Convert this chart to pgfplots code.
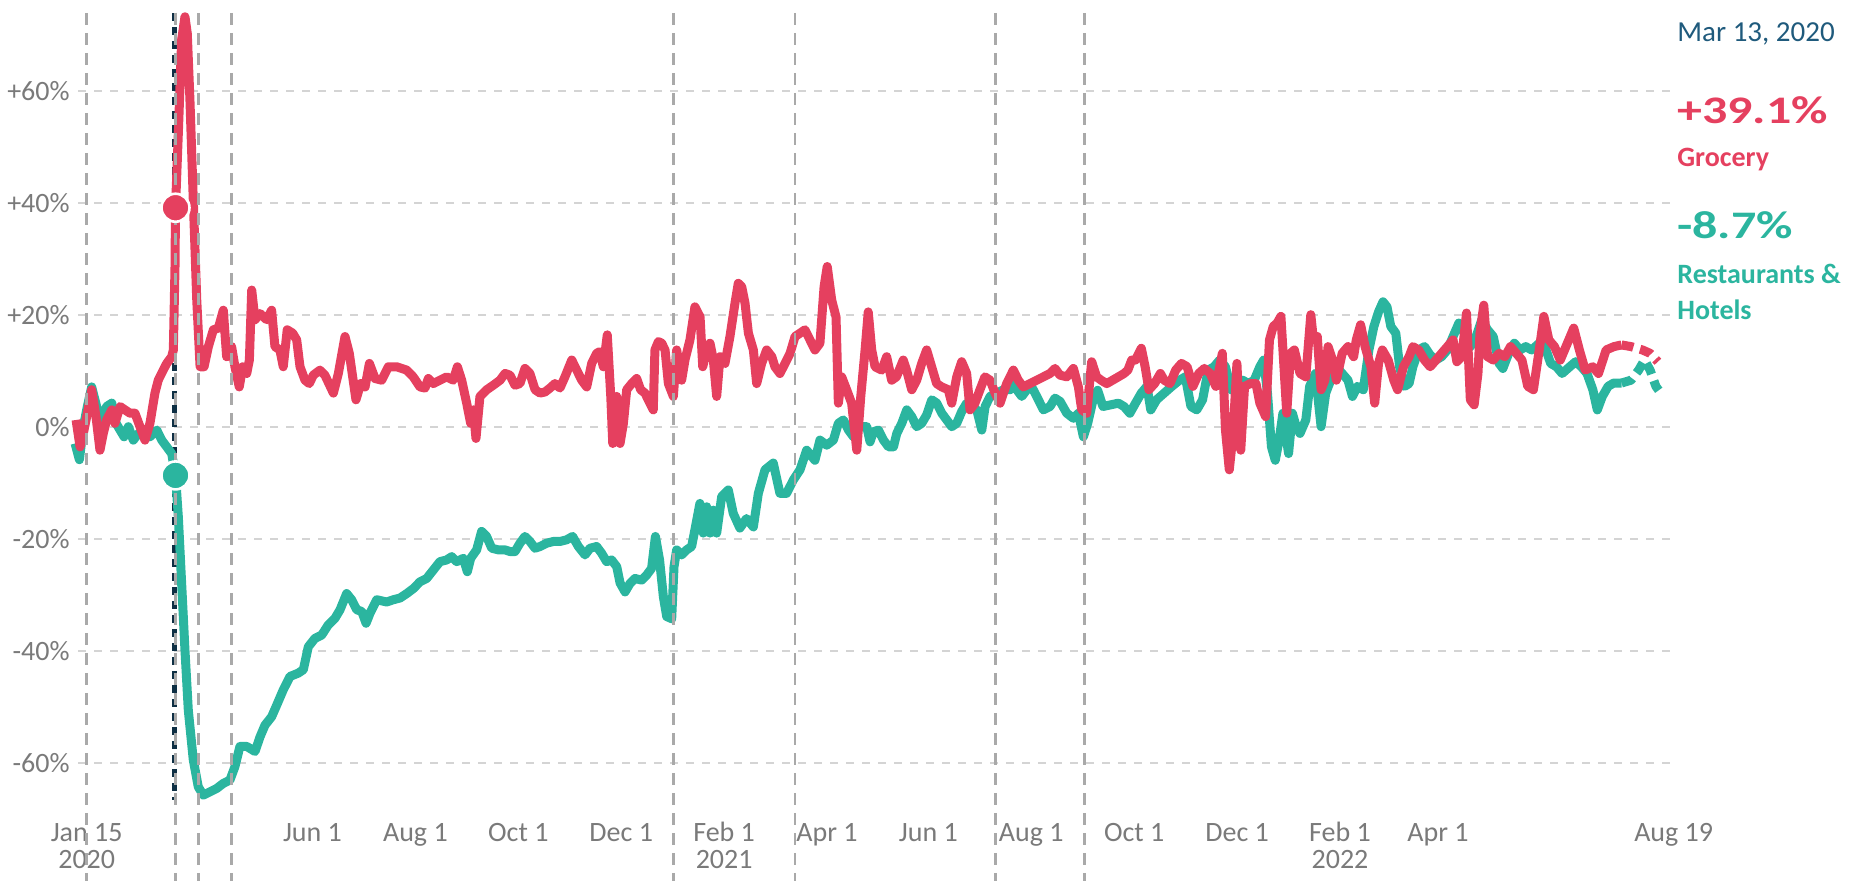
\documentclass[border=0pt]{standalone}
\usepackage{fontspec}
\setmainfont{Carlito}
\newfontfamily\bigfont[FakeStretch=1.28]{Carlito}
\usepackage{pgfplots}
\pgfplotsset{compat=1.18}
\definecolor{groc}{HTML}{E5405F}
\definecolor{rest}{HTML}{2BB59F}
\definecolor{navy}{HTML}{0E2F44}
\definecolor{datec}{HTML}{1F5A7C}
\definecolor{tickc}{HTML}{7A7A7A}
\definecolor{gridc}{HTML}{D4D4D4}
\definecolor{vlinec}{HTML}{A9A9A9}
\begin{document}
\begin{tikzpicture}
\begin{axis}[
  scale only axis, width=798.5pt, height=397.6pt,
  xmin=-5.24, xmax=956.8, ymin=-68, ymax=74,
  axis line style={draw=none}, tick style={draw=none}, major tick length=0pt,
  ytick={-60,-40,-20,0,20,40,60},
  yticklabels={-60\%,-40\%,-20\%,0\%,+20\%,+40\%,+60\%},
  ymajorgrids, grid style={gridc, line width=1pt, dash pattern=on 4pt off 4pt},
  xtick={0,136,198,260,322,384,446,507,569,631,693,755,814,956},
  xticklabels={Jan 15,Jun 1,Aug 1,Oct 1,Dec 1,Feb 1,Apr 1,Jun 1,Aug 1,Oct 1,Dec 1,Feb 1,Apr 1,Aug 19},
  extra x ticks={0,384,755}, extra x tick labels={2020,2021,2022},
  extra x tick style={grid=none, xticklabel style={yshift=-13.5pt}},
  ticklabel style={font=\fontsize{14}{16}\selectfont, text=tickc},
  xticklabel style={anchor=base, yshift=-17pt},
  yticklabel style={anchor=east, inner sep=0pt, xshift=-4pt},
  clip=false,
  every axis plot/.append style={line width=4.5pt, line join=round, mark=none},
]
% Mar 13 marker line (under the data)
\draw[navy, line width=2.4pt, dash pattern=on 4pt off 3pt] (axis cs:53.1,73.9) -- (axis cs:53.1,-66.6);
% Restaurants & Hotels (solid)
\addplot[rest] coordinates {
(-7.0,-3.0) (-4.4,-5.9) (-2.0,0.0) (0.4,3.6) (3.0,7.1) (6.0,3.6) (9.0,1.2) (12.0,3.6) (15.1,4.2) (17.7,0.6) (20.1,-0.6) (22.5,-1.8) (25.1,0.0) (28.1,-2.4) (31.1,-1.2) (34.1,-1.2) (38.1,-1.8) (42.2,-0.6) (45.2,-2.4) (48.2,-3.6) (51.2,-4.8) (53.5,-8.7) (55.2,-16.1) (57.2,-28.0) (59.2,-39.9) (61.2,-50.6) (64.2,-59.5) (67.2,-64.3) (70.2,-65.8) (74.3,-65.2) (78.3,-64.6) (82.3,-63.7) (86.3,-63.1) (89.3,-60.7) (92.3,-57.1) (96.4,-57.1) (101.4,-58.0) (104.4,-55.4) (107.4,-53.3) (111.4,-51.8) (114.5,-49.7) (118.4,-47.0) (122.5,-44.6) (127.5,-44.0) (130.5,-43.4) (133.5,-39.3) (137.5,-37.8) (141.6,-37.2) (145.5,-35.4) (149.6,-34.2) (152.6,-32.7) (156.6,-29.8) (159.6,-30.9) (162.7,-32.7) (165.7,-33.0) (168.3,-35.1) (170.7,-33.3) (174.7,-30.9) (180.7,-31.3) (184.7,-30.9) (188.7,-30.6) (192.8,-29.8) (196.8,-28.9) (200.8,-27.7) (204.8,-27.1) (208.8,-25.6) (212.8,-24.1) (216.8,-23.8) (219.9,-23.2) (222.9,-24.1) (226.9,-23.5) (229.3,-25.9) (231.3,-23.5) (234.9,-22.0) (237.9,-18.7) (240.9,-19.6) (244.0,-21.7) (248.0,-22.0) (252.0,-22.0) (255.0,-22.3) (258.0,-22.3) (261.0,-20.8) (264.0,-19.6) (267.0,-20.5) (270.1,-21.7) (273.1,-21.4) (277.1,-20.8) (281.1,-20.5) (285.1,-20.5) (289.1,-20.2) (292.7,-19.6) (296.2,-21.4) (300.2,-22.9) (303.2,-21.7) (307.2,-21.4) (310.2,-22.6) (313.2,-24.1) (316.2,-23.8) (319.3,-25.0) (321.3,-27.9) (324.3,-29.5) (327.3,-28.0) (330.3,-27.1) (334.3,-27.4) (337.3,-26.5) (340.3,-25.3) (342.6,-19.6) (345.1,-23.8) (347.4,-30.4) (349.4,-33.9) (352.4,-34.3) (353.8,-25.0) (355.4,-22.0) (358.4,-22.9) (361.4,-22.0) (364.4,-21.4) (366.4,-18.4) (369.4,-13.7) (371.4,-19.0) (373.5,-14.3) (375.5,-19.0) (377.5,-14.9) (379.5,-19.0) (382.5,-12.5) (386.5,-11.3) (389.5,-15.5) (393.5,-18.1) (397.5,-16.4) (401.6,-17.9) (404.6,-11.9) (408.6,-7.7) (413.6,-6.5) (417.6,-11.9) (421.6,-11.9) (425.7,-9.5) (429.7,-7.7) (433.7,-4.2) (438.7,-6.0) (441.7,-2.4) (445.8,-3.3) (449.8,-2.4) (452.8,0.6) (455.8,1.2) (458.9,-0.6) (461.9,-1.8) (465.9,0.0) (469.9,0.0) (471.9,-2.7) (473.9,-0.9) (476.9,-0.6) (480.0,-2.4) (483.0,-3.6) (486.0,-3.6) (488.0,-1.2) (491.0,0.6) (494.0,3.0) (497.0,1.8) (500.0,0.0) (503.0,0.6) (506.0,2.1) (509.1,4.8) (512.1,4.2) (515.1,2.4) (518.1,1.2) (521.1,0.0) (524.1,0.6) (527.1,2.7) (530.1,4.2) (533.1,3.6) (536.2,3.0) (539.2,-0.6) (541.2,3.6) (544.2,5.4) (548.2,6.0) (552.2,6.6) (556.2,6.6) (558.2,7.7) (560.3,6.6) (563.3,5.4) (566.3,6.6) (569.3,7.1) (572.3,5.4) (576.3,3.0) (580.3,3.6) (583.3,5.1) (586.4,4.5) (590.4,2.4) (594.4,1.5) (597.4,2.4) (600.4,-1.8) (603.0,0.6) (606.4,5.0) (609.0,6.5) (612.2,3.6) (616.8,3.9) (621.5,4.2) (624.9,3.6) (628.4,2.4) (631.8,4.2) (635.3,6.0) (638.7,7.2) (641.0,3.0) (644.5,4.8) (649.1,6.0) (653.7,7.2) (658.3,8.3) (661.8,8.9) (665.2,3.6) (668.7,3.0) (672.2,4.8) (675.6,10.1) (679.1,10.7) (682.5,11.9) (686.0,10.7) (689.4,6.6) (692.9,7.7) (696.4,8.3) (699.8,7.7) (703.3,8.3) (706.7,10.7) (709.0,11.9) (711.3,6.0) (713.7,-3.6) (716.0,-6.0) (718.3,-2.4) (720.6,2.4) (724.0,-4.8) (726.3,2.4) (728.6,0.0) (730.9,-1.2) (734.4,1.2) (736.7,7.2) (740.2,9.5) (743.6,0.0) (746.4,6.0) (749.4,8.3) (752.8,10.7) (756.3,9.5) (759.8,8.3) (762.5,5.4) (765.5,7.2) (769.0,6.6) (772.4,13.7) (775.4,17.9) (778.2,20.5) (780.9,22.3) (783.3,21.4) (785.6,17.9) (788.6,16.7) (790.9,10.7) (793.9,7.2) (796.6,7.7) (798.9,10.7) (802.4,13.7) (805.9,14.3) (809.3,12.8) (812.8,11.9) (816.2,12.5) (819.7,13.7) (823.1,16.1) (826.6,18.5) (830.0,16.7) (833.5,14.3) (837.0,16.1) (840.4,19.1) (843.9,17.3) (847.3,16.1) (850.8,11.3) (853.1,10.4) (856.6,13.1) (860.0,14.9) (863.5,13.7) (866.9,14.3) (870.4,13.7) (875.0,14.9) (878.4,14.3) (881.9,11.3) (885.4,10.7) (888.8,9.5) (893.4,10.7) (896.9,11.6) (900.4,10.7) (903.8,9.5) (907.3,6.6) (910.0,3.0) (913.0,5.4) (916.5,7.2) (919.9,7.8) (924.6,7.8)
};
% Restaurants & Hotels (dashed end)
\addplot[rest, dash pattern=on 6pt off 3.5pt] coordinates {
(924.6,7.8) (930.3,8.3) (934.9,10.1) (938.4,11.9) (941.8,10.1) (945.3,7.2) (947,6.5)
};
% Grocery (solid)
\addplot[groc] coordinates {
(-6.4,1.2) (-4.0,-3.6) (-2.0,-1.2) (0.4,2.4) (3.0,6.6) (5.6,1.8) (8.0,-4.2) (10.0,-1.2) (12.0,1.2) (15.1,3.0) (17.0,0.6) (20.1,3.6) (23.1,3.0) (26.1,2.4) (29.1,2.4) (32.1,0.0) (35.1,-2.4) (38.1,0.6) (41.1,6.0) (43.1,8.3) (46.1,10.1) (48.2,11.3) (51.2,12.5) (52.2,13.7) (53.2,28.6) (53.5,39.1) (55.2,52.4) (57.2,69.1) (59.2,73.2) (60.6,70.2) (62.2,58.3) (64.2,40.5) (66.3,22.6) (68.3,10.7) (70.7,10.7) (73.3,14.3) (76.3,17.3) (79.3,17.6) (82.3,20.8) (84.3,12.5) (87.3,14.3) (89.3,10.7) (91.9,7.1) (94.0,10.7) (96.4,9.5) (98.0,11.9) (99.4,24.4) (101.4,19.1) (104.4,20.2) (108.4,19.1) (111.4,20.8) (113.4,14.3) (116.4,13.7) (118.4,10.7) (120.8,17.3) (124.1,16.7) (126.5,15.5) (128.5,10.7) (131.5,8.3) (134.1,7.7) (136.5,9.2) (140.5,10.1) (143.5,9.2) (148.6,6.0) (151.6,9.5) (155.6,16.1) (158.2,13.1) (162.2,4.8) (165.1,7.7) (167.7,7.1) (170.3,11.3) (173.7,8.6) (177.7,8.3) (181.7,10.7) (186.7,10.7) (192.8,10.1) (196.7,8.9) (200.8,7.1) (203.8,6.9) (205.8,8.6) (208.8,7.7) (212.8,8.3) (216.9,8.9) (220.8,8.3) (223.3,10.7) (225.9,8.3) (228.9,4.2) (231.3,0.6) (232.9,3.0) (234.5,-2.1) (236.9,5.4) (241.0,6.6) (244.9,7.4) (249.0,8.3) (252.0,9.5) (255.0,9.2) (258.0,7.4) (261.0,7.7) (264.0,10.4) (267.0,9.5) (270.1,6.6) (273.1,6.0) (276.1,6.2) (279.1,6.9) (282.1,7.7) (285.1,6.9) (288.1,8.9) (292.2,11.9) (295.2,10.1) (298.2,8.3) (301.2,7.1) (304.2,11.3) (307.2,13.1) (309.2,13.4) (311.2,10.7) (313.6,16.4) (315.7,5.4) (316.9,-3.0) (319.3,5.4) (321.3,-3.0) (323.3,0.6) (325.3,6.6) (328.3,7.7) (331.3,8.6) (333.7,6.6) (336.3,6.0) (339.3,4.2) (341.3,3.0) (342.3,13.7) (344.4,15.2) (346.4,14.9) (348.4,13.7) (350.4,7.7) (353.4,5.4) (355.4,13.7) (358.4,8.3) (360.4,11.9) (363.4,15.5) (366.4,21.4) (369.5,19.6) (371.1,10.7) (373.5,13.7) (375.5,14.9) (377.5,11.9) (379.5,5.4) (381.5,12.5) (384.5,11.3) (387.5,16.1) (390.5,22.0) (392.5,25.6) (394.6,25.0) (396.6,22.0) (398.6,16.7) (401.6,13.7) (403.6,7.7) (406.6,11.3) (409.6,13.7) (412.7,12.5) (414.6,10.7) (417.6,9.5) (420.7,11.3) (423.7,13.1) (426.7,16.1) (429.7,16.7) (432.7,17.3) (435.7,15.5) (438.7,13.7) (441.7,14.9) (444.2,25.0) (446.1,28.6) (448.8,22.6) (451.4,19.6) (452.8,4.2) (454.8,8.9) (457.8,6.6) (460.8,4.2) (463.9,-4.2) (466.3,5.4) (468.9,13.7) (470.8,20.5) (472.9,13.7) (474.9,10.7) (478.9,10.1) (481.9,12.5) (484.9,8.3) (487.8,8.9) (491.9,11.9) (493.9,10.1) (497.0,6.6) (500.0,8.3) (503.0,11.3) (506.0,13.7) (509.0,10.7) (512.0,7.7) (515.1,7.1) (519.0,6.6) (521.1,4.2) (524.1,8.9) (527.1,11.6) (530.1,9.5) (532.1,3.0) (535.1,4.2) (538.1,6.6) (541.1,8.9) (544.2,8.3) (547.2,6.0) (550.2,4.2) (554.2,7.7) (558.2,10.1) (561.2,8.3) (564.2,7.1) (568.2,7.7) (572.3,8.3) (576.3,8.9) (580.3,9.5) (583.3,10.4) (586.3,9.2) (590.4,8.9) (594.4,10.4) (597.4,7.1) (599.4,3.0) (602.4,2.4) (605.4,11.6) (608.4,8.9) (611.1,8.3) (614.5,7.7) (618.0,8.3) (621.5,8.9) (624.9,9.5) (627.2,10.1) (629.5,11.9) (631.8,11.9) (635.3,14.0) (637.6,10.7) (639.9,6.6) (643.3,7.7) (646.8,9.5) (649.1,8.3) (652.6,7.7) (656.0,10.1) (659.5,11.3) (662.9,10.7) (666.4,7.2) (669.9,9.5) (673.3,10.4) (676.8,9.5) (680.2,7.2) (684.1,13.1) (686.0,-0.6) (688.3,-7.7) (690.6,-1.2) (692.9,11.3) (695.2,-4.2) (697.5,7.2) (701.0,7.7) (704.4,7.7) (706.7,4.2) (710.2,1.8) (712.5,15.5) (714.8,17.9) (717.1,18.5) (719.4,19.7) (722.9,2.4) (725.2,13.1) (727.5,13.7) (730.9,9.5) (734.4,8.9) (737.4,20.0) (739.0,15.5) (741.3,16.1) (743.6,6.6) (745.9,8.3) (747.8,14.3) (750.5,11.9) (752.8,8.3) (756.3,13.1) (759.8,14.3) (763.2,12.5) (764.8,15.5) (767.4,18.2) (770.1,14.3) (773.6,10.7) (775.9,4.2) (778.2,11.3) (780.5,13.7) (784.0,11.9) (787.4,8.3) (789.7,6.6) (793.2,10.7) (796.6,12.5) (798.9,14.3) (802.4,13.7) (805.9,11.9) (809.3,10.7) (812.8,11.9) (816.2,13.1) (819.7,14.3) (823.1,15.5) (825.4,11.6) (828.4,12.5) (831.2,20.3) (833.5,4.8) (835.8,3.9) (838.1,9.5) (839.3,16.7) (841.6,21.7) (843.9,12.5) (847.3,11.9) (850.8,13.1) (854.3,12.5) (857.7,14.3) (861.2,13.1) (864.6,11.9) (868.1,7.2) (871.5,6.6) (875.0,13.7) (877.8,19.7) (880.8,15.5) (884.2,14.3) (887.7,11.9) (891.1,14.3) (895.8,17.6) (899.2,13.7) (902.7,10.1) (907.3,10.7) (910.7,9.5) (915.3,13.7) (920.0,14.3) (924.6,14.6)
};
% Grocery (dashed end)
\addplot[groc, dash pattern=on 6pt off 3.5pt] coordinates {
(924.6,14.6) (930.3,14.3) (937.2,13.7) (941.8,13.1) (946.5,11.6)
};
% markers at Mar 13, 2020
\addplot[only marks, mark=*, mark size=7pt, line width=1.3pt, draw=white, fill=groc] coordinates {(53.5,39.1)};
\addplot[only marks, mark=*, mark size=7pt, line width=1.3pt, draw=white, fill=rest] coordinates {(53.5,-8.7)};
% vertical event lines (on top)
\draw[vlinec, line width=1.3pt, dash pattern=on 6pt off 4pt] (axis cs:0,73.9) -- (axis cs:0,-81.1);
\draw[vlinec, line width=1.3pt, dash pattern=on 6pt off 4pt] (axis cs:53.5,73.9) -- (axis cs:53.5,-81.1);
\draw[vlinec, line width=1.3pt, dash pattern=on 6pt off 4pt] (axis cs:67.4,73.9) -- (axis cs:67.4,-81.1);
\draw[vlinec, line width=1.3pt, dash pattern=on 6pt off 4pt] (axis cs:87.2,73.9) -- (axis cs:87.2,-81.1);
\draw[vlinec, line width=1.3pt, dash pattern=on 6pt off 4pt] (axis cs:353.6,73.9) -- (axis cs:353.6,-81.1);
\draw[vlinec, line width=1.3pt, dash pattern=on 6pt off 4pt] (axis cs:426.7,73.9) -- (axis cs:426.7,-81.1);
\draw[vlinec, line width=1.3pt, dash pattern=on 6pt off 4pt] (axis cs:547.6,73.9) -- (axis cs:547.6,-81.1);
\draw[vlinec, line width=1.3pt, dash pattern=on 6pt off 4pt] (axis cs:600.9,73.9) -- (axis cs:600.9,-81.1);
% annotations
\node[anchor=base west, inner sep=0pt, text=datec, font=\fontsize{14.5}{16}\selectfont] at (axis cs:958,68.8) {Mar 13, 2020};
\node[anchor=base west, inner sep=0pt, text=groc, font=\bigfont\bfseries\fontsize{19.5}{22}\selectfont] at (axis cs:958,54.2) {+39.1\%};
\node[anchor=base west, inner sep=0pt, text=groc, font=\bfseries\fontsize{14}{16}\selectfont] at (axis cs:958,46.4) {Grocery};
\node[anchor=base west, inner sep=0pt, text=rest, font=\bigfont\bfseries\fontsize{19.5}{22}\selectfont] at (axis cs:958,33.6) {-8.7\%};
\node[anchor=base west, inner sep=0pt, text=rest, font=\bfseries\fontsize{14}{16}\selectfont] at (axis cs:958,25.6) {Restaurants \&};
\node[anchor=base west, inner sep=0pt, text=rest, font=\bfseries\fontsize{14}{16}\selectfont] at (axis cs:958,19.1) {Hotels};
\end{axis}
\pgfresetboundingbox
\path[use as bounding box] ([xshift=-39pt,yshift=-36.75pt]current axis.south west) rectangle ([xshift=93.5pt,yshift=6.15pt]current axis.north east);
\end{tikzpicture}
\end{document}
